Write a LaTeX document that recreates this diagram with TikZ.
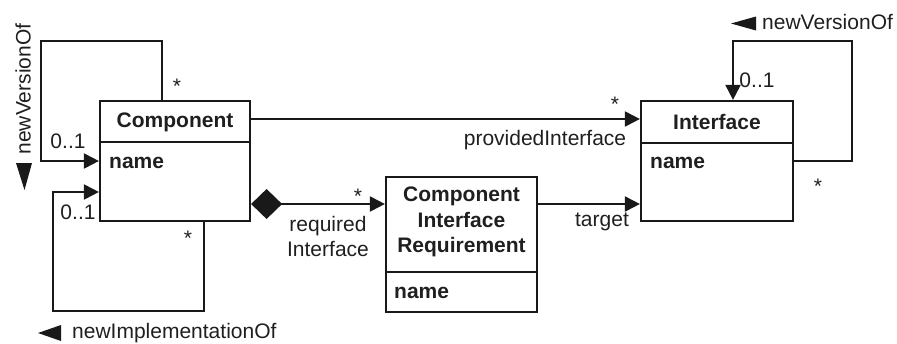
\documentclass[tikz,border=0pt]{standalone}
\usepackage{fontspec}
\setmainfont{Liberation Sans}
\usetikzlibrary{arrows.meta}
\begin{document}
\begin{tikzpicture}[x=1pt,y=-1pt,
  every node/.style={font=\fontsize{21}{25}\selectfont, inner sep=0pt, text=black!88},
  classbox/.style={draw=black!90, line width=2.2pt},
  title/.style={font=\bfseries\fontsize{21}{25.5}\selectfont, align=center},
  attr/.style={font=\bfseries\fontsize{21}{25}\selectfont, anchor=west},
  assoc/.style={draw=black!90, line width=2pt, -{Triangle[length=15pt,width=15pt]}},
  compose/.style={draw=black!90, line width=2pt, {Diamond[length=31pt,width=30pt]}-{Triangle[length=15pt,width=15pt]}},
  marker/.style={fill=black!90}]
\useasboundingbox (0,0) rectangle (897,343);

% class boxes
\node[classbox, minimum width=150pt, minimum height=120pt] (comp) at (175,161) {};
\node[classbox, minimum width=152pt, minimum height=120pt] (iface) at (717,161) {};
\node[classbox, minimum width=151pt, minimum height=135pt] (cir) at (461.5,244.5) {};

% compartment dividers
\draw[line width=2pt, draw=black!90] ([yshift=-42pt]comp.north west) -- ([yshift=-42pt]comp.north east);
\draw[line width=2pt, draw=black!90] ([yshift=-43pt]iface.north west) -- ([yshift=-43pt]iface.north east);
\draw[line width=2pt, draw=black!90] ([yshift=-96pt]cir.north west) -- ([yshift=-96pt]cir.north east);

% class names and attributes
\node[title] (compT) at (175,122) {Component};
\node[attr] (compA) at (109,163) {name};
\node[title] (ifaceT) at (717,122) {Interface};
\node[attr] (ifaceA) at (650,163) {name};
\node[title] (cirT) at (461.5,222) {Component\\Interface\\Requirement};
\node[attr] (cirA) at (394,293) {name};

% Component: newVersionOf loop
\coordinate (cv1) at (41,41);
\draw[assoc] ([xshift=-13pt]comp.north) |- (cv1) |- (comp.west);
% Component: newImplementationOf loop
\coordinate (ci1) at (53,311);
\draw[assoc] ([xshift=29pt]comp.south) |- (ci1) |- ([yshift=-31pt]comp.west);

% providedInterface
\coordinate (p1) at ([yshift=42pt]comp.east);
\draw[assoc] (p1) -- (p1 -| iface.west);
% requiredInterface (composition)
\coordinate (p2) at ([yshift=-43pt]comp.east);
\draw[compose] (p2) -- (p2 -| cir.west);
% target
\coordinate (p3) at (p2 -| cir.east);
\draw[assoc] (p3) -- (p3 -| iface.west);

% Interface: newVersionOf loop
\coordinate (iv1) at (852,41);
\draw[assoc] (iface.east) -| (iv1) -| ([xshift=16pt]iface.north);

% multiplicities and role names
\node (m1) at (177,86) {*};
\node (m2) at (68,141) {0..1};
\node (m3) at (78,212) {0..1};
\node (m4) at (188,238) {*};
\node (m5) at (615,104) {*};
\node (m6) at (358,196) {*};
\node (m7) at (757,80) {0..1};
\node (m8) at (818,186) {*};
\node (r1) at (545,140) {providedInterface};
\node[align=center] (r2) at (328,236) {required\\Interface};
\node (r3) at (602,222) {target};

% association names with reading-direction markers
\node[rotate=90] (n1) at (23,89) {newVersionOf};
\fill[marker] (24.5,190) -- (16,163) -- (32,163) -- cycle;
\node[anchor=west] (n2) at (72,333) {newImplementationOf};
\fill[marker] (38,333) -- (61,325) -- (61,341) -- cycle;
\node[anchor=west] (n3) at (762,22) {newVersionOf};
\fill[marker] (731,23.5) -- (756,16.5) -- (756,30.5) -- cycle;
\end{tikzpicture}
\end{document}
